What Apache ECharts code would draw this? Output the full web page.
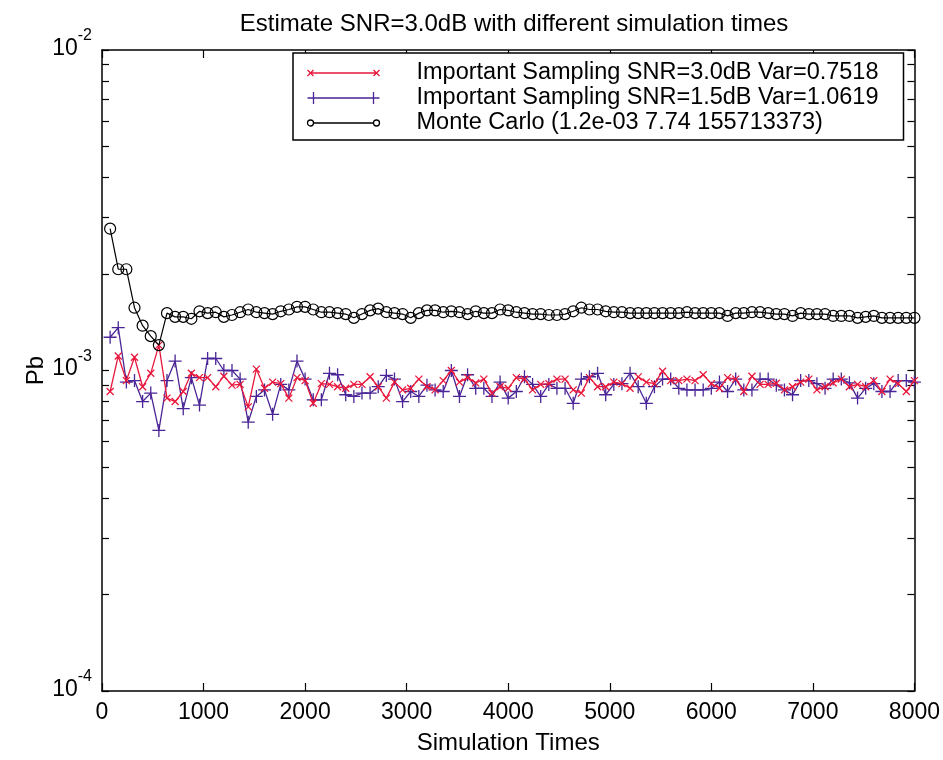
<!DOCTYPE html>
<html>
<head>
<meta charset="utf-8">
<script src="https://cdn.jsdelivr.net/npm/echarts@6/dist/echarts.min.js"></script>
<style>
html,body{margin:0;padding:0;background:#fff;}
#chart{width:943px;height:760px;}
</style>
</head>
<body>
<div id="chart"></div>
<script>
// ---- data ----
const simTimes = [80,160,240,320,400,480,560,640,720,800,
880,960,1040,1120,1200,1280,1360,1440,1520,1600,
1680,1760,1840,1920,2000,2080,2160,2240,2320,2400,
2480,2560,2640,2720,2800,2880,2960,3040,3120,3200,
3280,3360,3440,3520,3600,3680,3760,3840,3920,4000,
4080,4160,4240,4320,4400,4480,4560,4640,4720,4800,
4880,4960,5040,5120,5200,5280,5360,5440,5520,5600,
5680,5760,5840,5920,6000,6080,6160,6240,6320,6400,
6480,6560,6640,6720,6800,6880,6960,7040,7120,7200,
7280,7360,7440,7520,7600,7680,7760,7840,7920,8000];

const isSnr30 = [0.86e-3,1.11e-3,0.93e-3,1.10e-3,0.89e-3,0.98e-3,1.20e-3,0.82e-3,0.80e-3,0.86e-3,
0.98e-3,0.95e-3,0.95e-3,0.89e-3,0.96e-3,0.90e-3,0.905e-3,0.77e-3,1.01e-3,0.88e-3,
0.92e-3,0.91e-3,0.82e-3,0.95e-3,0.93e-3,0.79e-3,0.91e-3,0.905e-3,0.89e-3,0.88e-3,
0.905e-3,0.905e-3,0.956e-3,0.89e-3,0.82e-3,0.92e-3,0.87e-3,0.88e-3,0.94e-3,0.89e-3,
0.87e-3,0.93e-3,1.00e-3,0.92e-3,0.95e-3,0.915e-3,0.94e-3,0.85e-3,0.89e-3,0.88e-3,
0.95e-3,0.94e-3,0.87e-3,0.905e-3,0.91e-3,0.94e-3,0.94e-3,0.87e-3,0.85e-3,0.95e-3,
0.89e-3,0.89e-3,0.92e-3,0.91e-3,0.88e-3,0.955e-3,0.92e-3,0.91e-3,0.995e-3,0.93e-3,
0.93e-3,0.94e-3,0.93e-3,0.97e-3,0.91e-3,0.88e-3,0.95e-3,0.94e-3,0.86e-3,0.96e-3,
0.905e-3,0.905e-3,0.913e-3,0.87e-3,0.89e-3,0.92e-3,0.94e-3,0.87e-3,0.89e-3,0.915e-3,
0.94e-3,0.89e-3,0.905e-3,0.89e-3,0.93e-3,0.86e-3,0.94e-3,0.91e-3,0.86e-3,0.93e-3];

const isSnr15 = [1.27e-3,1.36e-3,0.92e-3,0.93e-3,0.80e-3,0.85e-3,0.65e-3,0.93e-3,1.07e-3,0.76e-3,
0.95e-3,0.78e-3,1.09e-3,1.09e-3,1.00e-3,1.00e-3,0.94e-3,0.69e-3,0.83e-3,0.87e-3,
0.73e-3,0.905e-3,0.87e-3,1.07e-3,0.94e-3,0.81e-3,0.81e-3,0.98e-3,0.97e-3,0.84e-3,
0.83e-3,0.85e-3,0.85e-3,0.89e-3,0.965e-3,0.94e-3,0.80e-3,0.86e-3,0.83e-3,0.90e-3,
0.87e-3,0.86e-3,1.00e-3,0.83e-3,0.97e-3,0.88e-3,0.88e-3,0.83e-3,0.92e-3,0.82e-3,
0.86e-3,0.956e-3,0.905e-3,0.83e-3,0.905e-3,0.88e-3,0.88e-3,0.79e-3,0.94e-3,0.956e-3,
0.98e-3,0.84e-3,0.905e-3,0.91e-3,0.98e-3,0.89e-3,0.79e-3,0.89e-3,0.94e-3,0.94e-3,
0.88e-3,0.87e-3,0.87e-3,0.87e-3,0.88e-3,0.92e-3,0.86e-3,0.94e-3,0.87e-3,0.87e-3,
0.94e-3,0.94e-3,0.90e-3,0.87e-3,0.84e-3,0.93e-3,0.93e-3,0.91e-3,0.88e-3,0.94e-3,
0.94e-3,0.915e-3,0.82e-3,0.88e-3,0.91e-3,0.86e-3,0.86e-3,0.93e-3,0.93e-3,0.92e-3];

const monteCarlo = [2.77e-3,2.07e-3,2.07e-3,1.57e-3,1.38e-3,1.28e-3,1.20e-3,1.51e-3,1.47e-3,1.47e-3,
1.45e-3,1.53e-3,1.51e-3,1.52e-3,1.47e-3,1.49e-3,1.52e-3,1.55e-3,1.52e-3,1.51e-3,
1.50e-3,1.53e-3,1.55e-3,1.58e-3,1.58e-3,1.55e-3,1.52e-3,1.52e-3,1.51e-3,1.50e-3,
1.46e-3,1.50e-3,1.54e-3,1.56e-3,1.52e-3,1.51e-3,1.50e-3,1.46e-3,1.51e-3,1.54e-3,
1.54e-3,1.52e-3,1.53e-3,1.52e-3,1.50e-3,1.53e-3,1.51e-3,1.51e-3,1.55e-3,1.54e-3,
1.52e-3,1.51e-3,1.50e-3,1.50e-3,1.49e-3,1.49e-3,1.50e-3,1.53e-3,1.57e-3,1.55e-3,
1.55e-3,1.53e-3,1.52e-3,1.52e-3,1.51e-3,1.51e-3,1.51e-3,1.51e-3,1.51e-3,1.51e-3,
1.51e-3,1.52e-3,1.51e-3,1.51e-3,1.51e-3,1.51e-3,1.48e-3,1.51e-3,1.51e-3,1.52e-3,
1.52e-3,1.51e-3,1.50e-3,1.50e-3,1.48e-3,1.51e-3,1.50e-3,1.50e-3,1.50e-3,1.48e-3,
1.48e-3,1.48e-3,1.46e-3,1.47e-3,1.48e-3,1.46e-3,1.46e-3,1.46e-3,1.46e-3,1.46e-3];

const seriesNames = ['Important Sampling SNR=3.0dB Var=0.7518',
                     'Important Sampling SNR=1.5dB Var=1.0619',
                     'Monte Carlo (1.2e-03 7.74 155713373)'];
const xTicks = [0,1000,2000,3000,4000,5000,6000,7000,8000];
const yMajorTicks = [1e-4,1e-3,1e-2];
const yAllTicks = [1e-4,2e-4,3e-4,4e-4,5e-4,6e-4,7e-4,8e-4,9e-4,
                   1e-3,2e-3,3e-3,4e-3,5e-3,6e-3,7e-3,8e-3,9e-3,1e-2];
const titleText = 'Estimate SNR=3.0dB with different simulation times';
const xName = 'Simulation Times';
const yName = 'Pb';

// ---- chart ----
const FONT = 'Liberation Sans, Arial, Helvetica, sans-serif';
const RED = '#e8173c';
const BLUE = '#4a2596';
const BLACK = '#000000';

const pair = (xs, ys) => xs.map((x, i) => [x, ys[i]]);

const crossPath = 'path://M0,0L8,8M0,8L8,0';
const plusPath = 'path://M0,6L12,6M6,0L6,12';
const circlePath = 'path://M10,5A5,5,0,1,1,0,5A5,5,0,1,1,10,5';

const legCross = 'path://M36,0L36,0M36,12L36,12M0,3L6,9M0,9L6,3M3,6L69,6M66,3L72,9M66,9L72,3';
const legPlus = 'path://M0,6L72,6M6,0L6,12M66,0L66,12';
const legCircle = 'path://M36,0L36,0M36,12L36,12M6,6L66,6M6,6A3,3,0,1,1,0,6A3,3,0,1,1,6,6M72,6A3,3,0,1,1,66,6A3,3,0,1,1,72,6';

const chart = echarts.init(document.getElementById('chart'), null, {renderer: 'canvas'});

const axisLineStyle = {color: '#000', width: 1.5};
const tickStyle = {color: '#000', width: 1.2};

chart.setOption({
  backgroundColor: '#fff',
  animation: false,
  textStyle: {fontFamily: FONT, color: '#000'},
  title: {
    text: titleText,
    left: 509, top: 7, textAlign: 'center',
    textStyle: {fontFamily: FONT, fontSize: 24, fontWeight: 'normal', color: '#000'}
  },
  grid: {left: 102, right: 26, top: 50, bottom: 68, containLabel: false},
  legend: {
    orient: 'vertical',
    left: 293, top: 53,
    padding: [8, 25, 5, 12],
    itemGap: 1,
    itemWidth: 72, itemHeight: 12,
    borderColor: '#000', borderWidth: 1.5,
    backgroundColor: '#fff',
    selectedMode: false,
    textStyle: {fontFamily: FONT, fontSize: 23.5, color: '#000', padding: [0, 0, 0, 32]},
    data: [
      {name: seriesNames[0], icon: legCross, itemStyle: {color: 'none', borderColor: RED, borderWidth: 1.3}},
      {name: seriesNames[1], icon: legPlus, itemStyle: {color: 'none', borderColor: BLUE, borderWidth: 1.3}},
      {name: seriesNames[2], icon: legCircle, itemStyle: {color: 'none', borderColor: BLACK, borderWidth: 1.3}}
    ]
  },
  xAxis: [{
    type: 'value', min: 0, max: 8000, interval: 1000, position: 'bottom',
    name: xName, nameLocation: 'middle', nameGap: 40, nameMoveOverlap: false,
    nameTextStyle: {fontFamily: FONT, fontSize: 24, color: '#000'},
    axisLine: {show: true, onZero: false, lineStyle: axisLineStyle},
    axisTick: {show: true, inside: true, length: 8, lineStyle: tickStyle, customValues: xTicks},
    axisLabel: {show: true, fontFamily: FONT, fontSize: 23, color: '#000', margin: 10,
                customValues: xTicks, formatter: v => String(v)},
    splitLine: {show: false}
  }, {
    type: 'value', min: 0, max: 8000, interval: 1000, position: 'top',
    axisLine: {show: true, onZero: false, lineStyle: axisLineStyle},
    axisTick: {show: true, inside: true, length: 8, lineStyle: tickStyle},
    axisLabel: {show: false},
    splitLine: {show: false}
  }],
  yAxis: [{
    type: 'log', logBase: 10, min: 1e-4, max: 1e-2, position: 'left',
    name: yName, nameLocation: 'middle', nameGap: 54, nameRotate: 90, nameMoveOverlap: false,
    nameTextStyle: {fontFamily: FONT, fontSize: 24, color: '#000'},
    axisLine: {show: true, onZero: false, lineStyle: axisLineStyle},
    axisTick: {show: true, inside: true, length: 7, lineStyle: tickStyle, customValues: yAllTicks},
    axisLabel: {
      show: true, margin: 10, customValues: yMajorTicks,
      padding: [0, 0, 12, 0],
      formatter: v => '{b|10}{s|' + Math.round(Math.log10(v)) + '}',
      rich: {
        b: {fontFamily: FONT, fontSize: 23, color: '#000', lineHeight: 32, verticalAlign: 'bottom'},
        s: {fontFamily: FONT, fontSize: 16, color: '#000', lineHeight: 32, verticalAlign: 'top'}
      }
    },
    splitLine: {show: false},
    minorTick: {show: false}
  }, {
    type: 'log', logBase: 10, min: 1e-4, max: 1e-2, position: 'right',
    axisLine: {show: true, onZero: false, lineStyle: axisLineStyle},
    axisTick: {show: true, inside: true, length: 7, lineStyle: tickStyle, customValues: yAllTicks},
    axisLabel: {show: false},
    splitLine: {show: false}
  }],
  series: [{
    name: seriesNames[0], type: 'line', xAxisIndex: 0, yAxisIndex: 0,
    data: pair(simTimes, isSnr30),
    symbol: crossPath, symbolSize: 7, showAllSymbol: true,
    lineStyle: {color: RED, width: 1.3},
    itemStyle: {color: 'none', borderColor: RED, borderWidth: 1.3},
    emphasis: {disabled: true}, z: 3
  }, {
    name: seriesNames[1], type: 'line', xAxisIndex: 0, yAxisIndex: 0,
    data: pair(simTimes, isSnr15),
    symbol: plusPath, symbolSize: 13, showAllSymbol: true,
    lineStyle: {color: BLUE, width: 1.3},
    itemStyle: {color: 'none', borderColor: BLUE, borderWidth: 1.3},
    emphasis: {disabled: true}, z: 2
  }, {
    name: seriesNames[2], type: 'line', xAxisIndex: 0, yAxisIndex: 0,
    data: pair(simTimes, monteCarlo),
    symbol: circlePath, symbolSize: 11, showAllSymbol: true,
    lineStyle: {color: BLACK, width: 1.2},
    itemStyle: {color: 'none', borderColor: BLACK, borderWidth: 1.2},
    emphasis: {disabled: true}, z: 4
  }]
});
</script>
</body>
</html>
